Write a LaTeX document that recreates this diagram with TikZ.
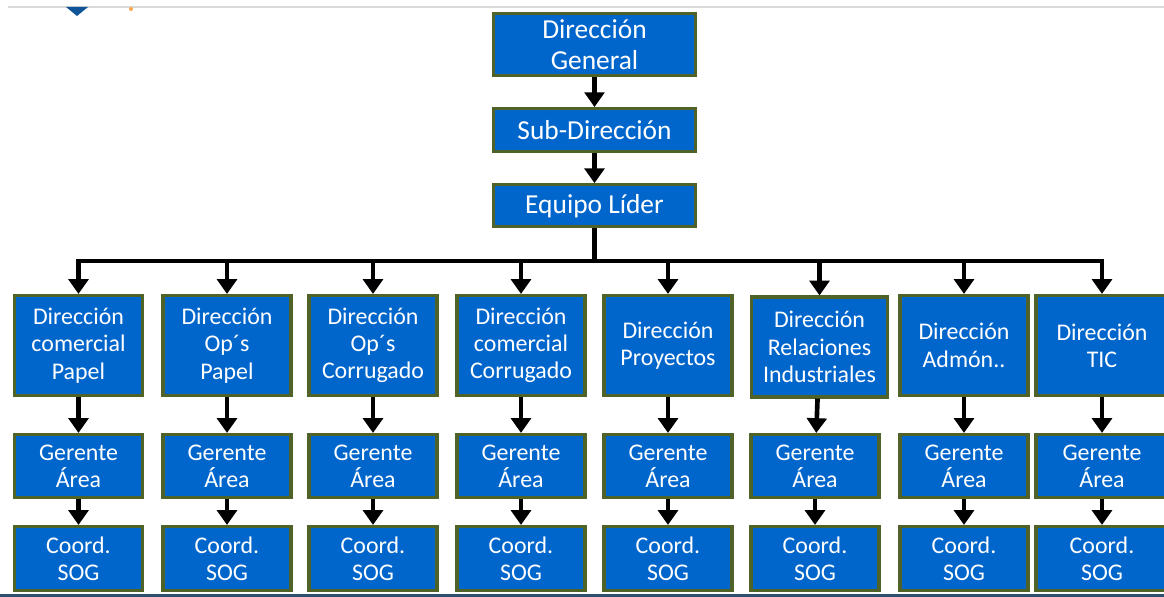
\documentclass[tikz,border=0pt]{standalone}
\usepackage{fontspec}
\setmainfont{Carlito}
\usepackage{xcolor}
\usetikzlibrary{arrows.meta,positioning,calc}

\definecolor{boxblue}{RGB}{0,102,204}
\definecolor{boxedge}{RGB}{79,98,40}
\definecolor{slideblue}{RGB}{16,84,152}
\definecolor{slideline}{RGB}{47,79,111}

\begin{document}
\begin{tikzpicture}[
    x=0.025cm, y=-0.025cm,
    unit/.style={rectangle, draw=boxedge, line width=2.2pt, fill=boxblue, text=white, align=center, inner sep=0pt, minimum width=3.2cm, font=\fontsize{17}{19.4}\selectfont},
    headbox/.style={unit, minimum width=5.05cm, font=\fontsize{19.5}{22}\selectfont},
    dirbox/.style={unit, minimum height=2.5cm},
    gerbox/.style={unit, minimum height=1.575cm},
    sogbox/.style={unit, minimum height=1.6cm},
    arrow/.style={-{Triangle[width=14pt,length=10.5pt]}, line width=3.3pt},
    node distance=0.75cm
]
\clip (0,0) rectangle (1164,597);

% slide leftovers
\draw[black!15, line width=1pt] (8,7) -- (1164,7);
\fill[slideblue] (66,7) -- (88,7) -- (77,16) -- cycle;
\fill[orange!70] (131,9) circle (2);
\draw[slideline, line width=2.5pt] (0,596) -- (1164,596);

% top
\node[headbox, minimum height=1.55cm] (general) at (594.5,44.5) {Dirección\\General};
\node[headbox, minimum height=1.075cm, below=of general] (subdir) {Sub-Dirección};
\node[headbox, minimum height=1.05cm, below=of subdir] (lider) {Equipo Líder};
\coordinate (bar) at (594.5,261);

% direcciones
\node[dirbox] (dir1) at (78.5,345.5) {Dirección\\comercial\\Papel};
\node[dirbox] (dir2) at (227,345.5) {Dirección\\Op´s\\Papel};
\node[dirbox] (dir3) at (373,345.5) {Dirección\\Op´s\\Corrugado};
\node[dirbox] (dir4) at (521,345.5) {Dirección\\comercial\\Corrugado};
\node[dirbox] (dir5) at (668,345.5) {Dirección\\Proyectos};
\node[dirbox, minimum width=3.4cm] (dir6) at (819.5,347) {Dirección\\Relaciones\\Industriales};
\node[dirbox] (dir7) at (964,345.5) {Dirección\\Admón..};
\node[dirbox, minimum width=3.3cm] (dir8) at (1102,345.5) {Dirección\\TIC};

% gerentes
\node[gerbox] (ger1) at (78.5,466) {Gerente\\Área};
\node[gerbox] (ger2) at (227,466) {Gerente\\Área};
\node[gerbox] (ger3) at (373,466) {Gerente\\Área};
\node[gerbox] (ger4) at (521,466) {Gerente\\Área};
\node[gerbox] (ger5) at (668,466) {Gerente\\Área};
\node[gerbox] (ger6) at (815,466) {Gerente\\Área};
\node[gerbox] (ger7) at (964,466) {Gerente\\Área};
\node[gerbox, minimum width=3.3cm] (ger8) at (1102,466) {Gerente\\Área};

% coordinadores
\node[sogbox] (sog1) at (78.5,558.5) {Coord.\\SOG};
\node[sogbox] (sog2) at (227,558.5) {Coord.\\SOG};
\node[sogbox] (sog3) at (373,558.5) {Coord.\\SOG};
\node[sogbox] (sog4) at (521,558.5) {Coord.\\SOG};
\node[sogbox] (sog5) at (668,558.5) {Coord.\\SOG};
\node[sogbox] (sog6) at (815,558.5) {Coord.\\SOG};
\node[sogbox] (sog7) at (964,558.5) {Coord.\\SOG};
\node[sogbox, minimum width=3.3cm] (sog8) at (1102,558.5) {Coord.\\SOG};

% Arrows
\draw[arrow] (general) -- (subdir);
\draw[arrow] (subdir) -- (lider);
\draw[line width=3.3pt] (lider) -- (bar);
\draw[line width=3.3pt, line cap=rect] (dir1 |- bar) -- (dir8 |- bar);
\foreach \i in {1,...,8} {
    \draw[arrow] (dir\i |- bar) -- (dir\i);
    \draw[arrow] (dir\i) -- (ger\i);
    \draw[arrow] (ger\i) -- (sog\i);
}

\end{tikzpicture}
\end{document}
